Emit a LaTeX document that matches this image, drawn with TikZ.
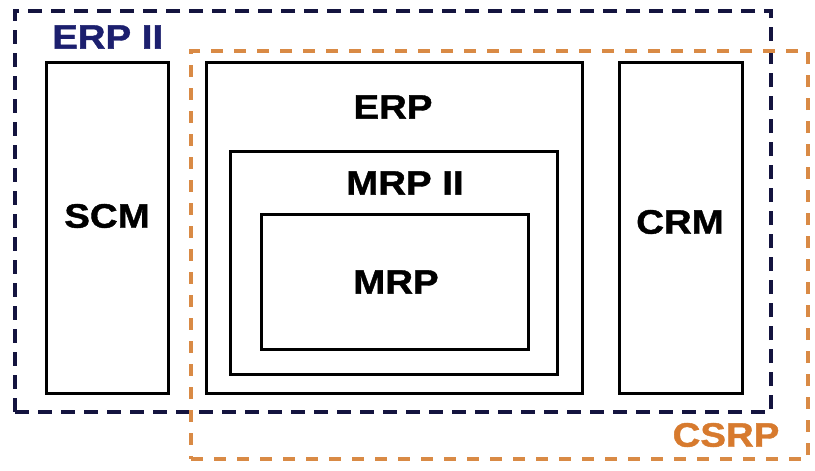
\documentclass[tikz,border=0pt]{standalone}
\usepackage{fontspec}
\setmainfont{Liberation Sans}
\newfontfamily\lblfont[FakeStretch=1.13,FakeBold=1.2]{Liberation Sans}
\definecolor{navyline}{HTML}{14143F}
\definecolor{navytext}{HTML}{1C1F6E}
\definecolor{orangeline}{HTML}{D98A45}
\definecolor{orangetext}{HTML}{D77A2E}
\begin{document}
\begin{tikzpicture}[x=1pt,y=-1pt,
  box/.style={draw=black, line width=3pt, rectangle, inner sep=0pt, outer sep=0pt, anchor=north west},
  erpiibox/.style={draw=navyline, line width=3.6pt, dash pattern=on 14pt off 9pt, rectangle, inner sep=0pt, outer sep=0pt, anchor=north west},
  csrpbox/.style={draw=orangeline, line width=3.3pt, dash pattern=on 12pt off 11pt, rectangle, inner sep=0pt, outer sep=0pt, anchor=north west},
  lbl/.style={font=\lblfont\bfseries\fontsize{34}{37}\selectfont, inner sep=0pt}
]
\useasboundingbox[fill=white] (0,0) rectangle (815,471);
% outer dashed regions
\node[erpiibox, minimum width=756pt, minimum height=401pt] (erpii) at (15,11) {};
\node[csrpbox, minimum width=617pt, minimum height=408pt] (csrp) at (191,51) {};
% solid boxes
\node[box, minimum width=122pt, minimum height=331pt] (scm) at (46,62) {};
\node[box, minimum width=376pt, minimum height=331pt] (erp) at (206,62) {};
\node[box, minimum width=327pt, minimum height=223pt] (mrpii) at (230,151) {};
\node[box, minimum width=267pt, minimum height=135pt] (mrp) at (261,214) {};
\node[box, minimum width=123pt, minimum height=331pt] (crm) at (619,62) {};
% labels
\node[lbl, text=navytext, anchor=west] (terpii) at (52,37) {ERP II};
\node[lbl, text=orangetext] (tcsrp) at (726,435) {CSRP};
\node[lbl] (tscm) at (107,216) {SCM};
\node[lbl] (terp) at (393,107) {ERP};
\node[lbl] (tmrpii) at (405,183) {MRP II};
\node[lbl] (tmrp) at (396,282) {MRP};
\node[lbl] (tcrm) at (680,222) {CRM};
\end{tikzpicture}
\end{document}
